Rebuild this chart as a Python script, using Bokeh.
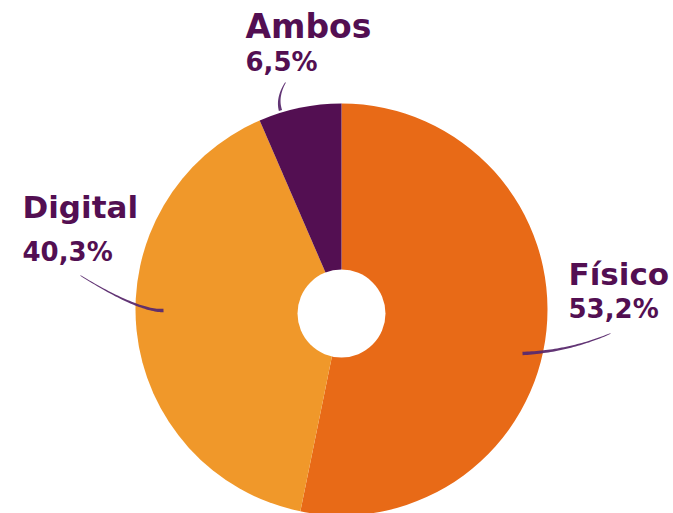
import numpy as np
from bokeh.plotting import figure
from bokeh.models import Range1d, ColumnDataSource
from bokeh.core.properties import value
from bokeh.embed import file_html
from bokeh.resources import INLINE

# ---- data ----
categories = ["Físico", "Digital", "Ambos"]
percentages = [53.2, 40.3, 6.5]
pct_labels = ["53,2%", "40,3%", "6,5%"]
colors = ["#E86A17", "#F0982A", "#530F52"]

# ---- layout constants (screen px of the 673x513 page) ----
W, H = 673, 513
def sy(y):  # screen y -> data y (data y up)
    return H - y

CX, CY, R = 341, 309, 206
HOLE_CX, HOLE_CY, HOLE_R = 341, 313, 44
TEXT_COLOR = "#530F52"
LINE_COLOR = "#5A2A6E"
TEXT_SHIFT = -12

p = figure(width=W, height=H, output_backend="svg", toolbar_location=None,
           x_range=Range1d(0, W), y_range=Range1d(0, H),
           min_border=0, outline_line_color=None, background_fill_color="white",
           border_fill_color="white")
p.axis.visible = False
p.grid.visible = False

# wedges: start at top, go clockwise
fr = np.array(percentages) / sum(percentages)
cum = np.concatenate([[0], np.cumsum(fr)])
start = np.pi / 2 - cum[:-1] * 2 * np.pi
end = np.pi / 2 - cum[1:] * 2 * np.pi
src = ColumnDataSource(dict(start=start, end=end, color=colors, cat=categories))
p.wedge(x=CX, y=sy(CY), radius=R, start_angle="start", end_angle="end",
        direction="clock", fill_color="color", line_color=None, source=src)
p.scatter(x=[HOLE_CX], y=[sy(HOLE_CY)], size=2 * HOLE_R, marker="circle",
          fill_color="white", line_color=None)

# labels
label_pos = {  # x, name baseline, pct baseline (screen)
    "Físico": (568, 285, 320),
    "Digital": (22, 218, 263),
    "Ambos": (245, 38, 73),
}
name_sizes = {"Físico": "31px", "Digital": "31px", "Ambos": "33px"}
for cat, pl in zip(categories, pct_labels):
    x, b1, b2 = label_pos[cat]
    p.text(x=[x], y=[sy(b1 + TEXT_SHIFT)], text=[cat], text_font=value("DejaVu Sans"),
           text_font_style="bold", text_font_size=name_sizes[cat], text_color=TEXT_COLOR,
           text_baseline="alphabetic", text_align="left")
    p.text(x=[x], y=[sy(b2 + TEXT_SHIFT)], text=[pl], text_font=value("DejaVu Sans"),
           text_font_style="bold", text_font_size="26px", text_color=TEXT_COLOR,
           text_baseline="alphabetic", text_align="left")

# tapered leader strokes (label end thin -> pie end thick)
leaders = {
    "Físico": ((610, 333), (568, 351), (522, 353)),
    "Digital": ((80, 275), (138, 311), (163, 310)),
    "Ambos": ((285, 82), (276, 97), (280, 110)),
}
for cat in categories:
    P0, C, P2 = [np.array(v, dtype=float) for v in leaders[cat]]
    t = np.linspace(0, 1, 40)[:, None]
    pts = (1 - t) ** 2 * P0 + 2 * (1 - t) * t * C + t ** 2 * P2
    d = 2 * (1 - t) * (C - P0) + 2 * t * (P2 - C)
    n = np.stack([-d[:, 1], d[:, 0]], axis=1)
    n /= np.linalg.norm(n, axis=1, keepdims=True)
    w = (0.4 + 1.3 * t[:, 0])[:, None]
    left = pts + n * w
    right = pts - n * w
    poly = np.vstack([left, right[::-1]])
    p.patch(x=poly[:, 0], y=H - poly[:, 1], fill_color=LINE_COLOR,
            line_color=None, fill_alpha=0.95)

open("out.html", "w").write(file_html(p, INLINE))
